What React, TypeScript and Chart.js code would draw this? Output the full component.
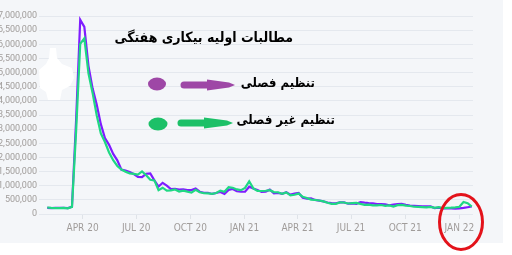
import React, { useEffect, useRef } from 'react';
import { Chart, registerables } from 'chart.js';

Chart.register(...registerables);

// Weekly initial jobless claims (thousands), weeks ending Saturday, from 2020-02-01 to 2022-01-22
const START_DATE = '2020-02-01';

const SEASONALLY_ADJUSTED_K = [
  214, 208, 215, 220, 217, 211, 256, 3307, 6867, 6615, 5237, 4442, 3867, 3176, 2687, 2446,
  2123, 1897, 1566, 1540, 1482, 1413, 1310, 1307, 1422, 1435, 1191, 971, 1104, 1006, 881, 893,
  866, 873, 849, 845, 898, 787, 751, 751, 709, 742, 778, 712, 853, 885, 803, 787,
  790, 965, 900, 847, 779, 793, 861, 730, 745, 712, 770, 684, 719, 744, 576, 547,
  553, 498, 473, 444, 406, 385, 376, 412, 411, 364, 373, 360, 419, 400, 385, 375,
  348, 353, 340, 310, 332, 351, 362, 326, 296, 290, 281, 269, 267, 268, 210, 222,
  195, 200, 198, 192, 200, 215, 240, 265,
];

const NOT_ADJUSTED_K = [
  230, 215, 205, 210, 215, 200, 251, 2920, 6015, 6211, 4971, 4281, 3490, 2849, 2545, 2174,
  1900, 1697, 1574, 1495, 1436, 1419, 1394, 1503, 1373, 1208, 1187, 842, 930, 829, 834, 866,
  796, 826, 791, 757, 855, 767, 734, 731, 709, 743, 827, 787, 947, 929, 868, 844,
  922, 1151, 906, 816, 813, 822, 840, 774, 769, 717, 764, 656, 681, 722, 607, 566,
  510, 494, 477, 447, 397, 361, 358, 411, 407, 372, 385, 395, 356, 323, 331, 307,
  303, 318, 289, 306, 265, 314, 321, 295, 282, 256, 250, 245, 235, 254, 216, 240,
  210, 215, 222, 235, 255, 425, 380, 262,
];

const X_TICK_DATES = ['2020-04-01', '2020-07-01', '2020-10-01', '2021-01-01', '2021-04-01', '2021-07-01', '2021-10-01', '2022-01-01'];
const X_TICK_LABELS = ['APR 20', 'JUL 20', 'OCT 20', 'JAN 21', 'APR 21', 'JUL 21', 'OCT 21', 'JAN 22'];

const Y_MAX = 7000000;
const Y_STEP = 500000;

const TITLE = 'مطالبات اولیه بیکاری هفتگی';
const SERIES_LABELS = ['تنظیم فصلی', 'تنظیم غیر فصلی'];

const weeksSinceStart = (d: string) =>
  (Date.parse(d + 'T00:00:00Z') - Date.parse(START_DATE + 'T00:00:00Z')) / (7 * 86400000);

const overlayPlugin = {
  id: 'overlay',
  afterDraw(chart: any) {
    const ctx = chart.ctx as CanvasRenderingContext2D;
    ctx.save();
    // white blob
    ctx.fillStyle = '#ffffff';
    ctx.beginPath();
    const blob = [[50, 48], [56, 48], [57, 58], [62, 64], [72, 68], [74, 78], [70, 86], [62, 90], [60, 100], [48, 100], [46, 92], [40, 88], [39, 70], [46, 64], [49, 58]];
    blob.forEach(([x, y], i) => (i ? ctx.lineTo(x, y) : ctx.moveTo(x, y)));
    ctx.closePath();
    ctx.fill();

    const drawArrow = (x0: number, x1: number, y: number, color: string) => {
      ctx.fillStyle = color;
      ctx.strokeStyle = color;
      ctx.lineCap = 'round';
      ctx.lineWidth = 7;
      ctx.beginPath();
      ctx.moveTo(x0 + 3, y);
      ctx.lineTo(x0 + 28, y);
      ctx.stroke();
      ctx.beginPath();
      ctx.moveTo(x0 + 26, y - 5.5);
      ctx.lineTo(x1 - 6, y - 2.5);
      ctx.lineTo(x1, y);
      ctx.lineTo(x1 - 6, y + 2.5);
      ctx.lineTo(x0 + 26, y + 5.5);
      ctx.closePath();
      ctx.fill();
    };
    // legend 1 (purple)
    ctx.fillStyle = '#9e47a6';
    ctx.beginPath();
    ctx.ellipse(157, 84, 9, 6.5, 0, 0, Math.PI * 2);
    ctx.fill();
    drawArrow(181, 235, 85, '#9e47a6');
    // legend 2 (green)
    ctx.fillStyle = '#1cc068';
    ctx.beginPath();
    ctx.ellipse(158, 124, 9.5, 6.5, 0, 0, Math.PI * 2);
    ctx.fill();
    drawArrow(178, 233, 123, '#1cc068');

    // red ellipse
    ctx.strokeStyle = '#e3121a';
    ctx.lineWidth = 3;
    ctx.beginPath();
    ctx.ellipse(461, 222, 21.5, 27.5, 0, 0, Math.PI * 2);
    ctx.stroke();
    ctx.restore();
  },
};

export default function App() {
  const canvasRef = useRef<HTMLCanvasElement | null>(null);

  useEffect(() => {
    if (!canvasRef.current) return;
    const tickOffsets = X_TICK_DATES.map(weeksSinceStart);
    const chart = new Chart(canvasRef.current, {
      type: 'line',
      data: {
        datasets: [
          {
            label: SERIES_LABELS[1],
            data: NOT_ADJUSTED_K.map((v, i) => ({ x: i, y: v * 1000 })),
            borderColor: '#1fd883',
            borderWidth: 2.2,
            order: 0,
          },
          {
            label: SERIES_LABELS[0],
            data: SEASONALLY_ADJUSTED_K.map((v, i) => ({ x: i, y: v * 1000 })),
            borderColor: '#7f1cff',
            borderWidth: 2.2,
            order: 1,
          },
        ],
      },
      options: {
        responsive: false,
        animation: false,
        layout: { padding: { top: 16, right: 39, bottom: 0, left: 0 } },
        plugins: { legend: { display: false }, tooltip: { enabled: false }, title: { display: false } },
        elements: { point: { radius: 0 }, line: { tension: 0 } },
        scales: {
          x: {
            type: 'linear',
            min: -2,
            max: 103.3,
            afterBuildTicks: (axis: any) => {
              axis.ticks = tickOffsets.map((v) => ({ value: v }));
            },
            afterFit: (s: any) => {
              s.height = 41;
            },
            ticks: {
              autoSkip: false,
              maxRotation: 0,
              padding: 3,
              color: '#a09c9a',
              font: { family: '"DejaVu Sans Condensed", sans-serif', size: 10 },
              callback: (_v: any, i: number) => X_TICK_LABELS[i],
            },
            grid: { drawOnChartArea: false, tickLength: 5, color: '#dfe3e8' },
            border: { display: false },
          },
          y: {
            min: 0,
            max: Y_MAX,
            afterFit: (s: any) => {
              s.width = 39;
            },
            ticks: {
              stepSize: Y_STEP,
              autoSkip: false,
              padding: 2,
              color: '#a09c9a',
              font: { family: 'Roboto, sans-serif', size: 9 },
              callback: (v: any) => Number(v).toLocaleString('en-US'),
            },
            grid: { color: '#e4e8ee', drawTicks: false },
            border: { display: false },
          },
        },
      },
      plugins: [overlayPlugin],
    } as any);
    return () => chart.destroy();
  }, []);

  const textStyle: React.CSSProperties = {
    position: 'absolute',
    fontFamily: '"DejaVu Sans Condensed", "DejaVu Sans", sans-serif',
    fontWeight: 'bold',
    fontSize: 13,
    lineHeight: '20px',
    color: '#000',
    whiteSpace: 'nowrap',
    direction: 'rtl',
    zIndex: 2,
  };

  return (
    <div style={{ position: 'absolute', left: 0, top: 0, width: 512, height: 255, background: '#ffffff', overflow: 'hidden' }}>
      <div style={{ position: 'absolute', left: 0, top: 0, width: 503, height: 243, background: '#f4f6f9' }} />
      <canvas ref={canvasRef} width={512} height={255} style={{ position: 'absolute', left: 0, top: 0, zIndex: 1 }} />
      <div style={{ ...textStyle, fontSize: 14, right: 512 - 293, top: 27 }}>{TITLE}</div>
      <div style={{ ...textStyle, right: 512 - 315, top: 73 }}>{SERIES_LABELS[0]}</div>
      <div style={{ ...textStyle, right: 512 - 335, top: 110 }}>{SERIES_LABELS[1]}</div>
    </div>
  );
}
